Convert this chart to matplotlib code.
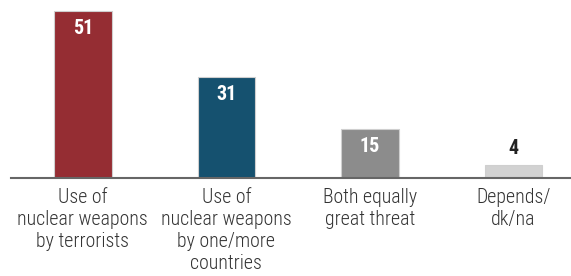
import matplotlib
matplotlib.use('Agg')
import matplotlib.pyplot as plt

categories = ["Use of\nnuclear weapons\nby terrorists",
              "Use of\nnuclear weapons\nby one/more\ncountries",
              "Both equally\ngreat threat",
              "Depends/\ndk/na"]
values = [51, 31, 15, 4]
colors = ["#952D33", "#15516F", "#8C8C8C", "#D2D2D2"]

plt.rcParams['font.family'] = ['Roboto Condensed', 'DejaVu Sans']

fig = plt.figure(figsize=(5.71, 2.76), dpi=100)
ax = fig.add_axes([11/571, 98/276, 560/571, 178/276])
x = list(range(len(values)))
ax.bar(x, values, width=0.4, color=colors, edgecolor="#CFCFCF", linewidth=0.8)

for i, v in enumerate(values):
    if v >= 10:
        ax.annotate(str(v), (i, v), xytext=(0, -6), textcoords='offset points',
                    ha='center', va='top', color='white', fontsize=14.5, fontweight='bold')
    else:
        ax.annotate(str(v), (i, v), xytext=(0, 5), textcoords='offset points',
                    ha='center', va='bottom', color='#222222', fontsize=14.5, fontweight='bold')

ax.set_xlim(-0.5, 3.4)
ax.set_ylim(0, 54.4)
ax.set_xticks(x)
ax.set_xticklabels(categories, fontsize=14.3, color='#333333', linespacing=1.2,
                   fontweight='light')
ax.tick_params(axis='x', length=0, pad=7)
ax.set_yticks([])
for s in ['top', 'left', 'right']:
    ax.spines[s].set_visible(False)
ax.spines['bottom'].set_color('#666666')
ax.spines['bottom'].set_linewidth(1.5)

fig.savefig('out.png', dpi=100)
